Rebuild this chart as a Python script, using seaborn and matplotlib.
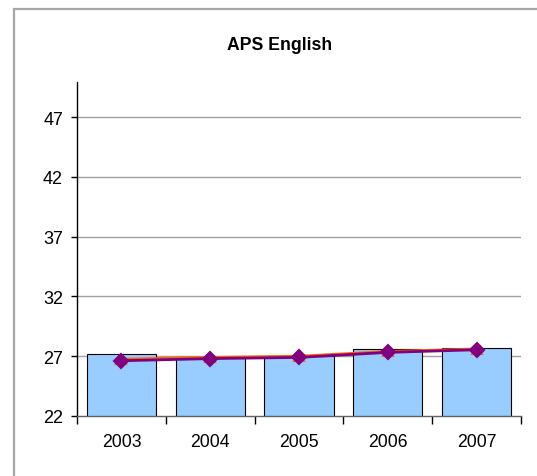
import matplotlib
matplotlib.use("Agg")
import matplotlib.pyplot as plt
import seaborn as sns
from matplotlib.patches import Rectangle
from matplotlib.ticker import FixedLocator

years = ["2003", "2004", "2005", "2006", "2007"]
bar_values = [27.15, 26.9, 27.0, 27.6, 27.65]
orange_values = [26.75, 26.9, 27.0, 27.4, 27.6]
purple_values = [26.62, 26.8, 26.9, 27.32, 27.54]
y_ticks = [22, 27, 32, 37, 42, 47]

sns.set_theme(style="white")
plt.rcParams['font.family'] = ['Liberation Sans', 'DejaVu Sans']
plt.rcParams['text.color'] = 'black'
plt.rcParams['xtick.color'] = 'black'
plt.rcParams['ytick.color'] = 'black'

W, H = 537, 477
fig = plt.figure(figsize=(W / 100, H / 100), dpi=100)
fig.patch.set_facecolor("white")

# outer frame
fig.add_artist(Rectangle((14 / W, -0.1), 1.5, (H - 9.5) / H + 0.1, transform=fig.transFigure,
                         fill=False, edgecolor="#A6A6A6", linewidth=1.6))

ax = fig.add_axes([77 / W, (H - 417) / H, (521 - 77) / W, (417 - 83) / H])
ax.set_facecolor("white")

sns.barplot(x=years, y=bar_values, color="#99CCFF", edgecolor="black", linewidth=0.8,
            width=0.78, saturation=1, ax=ax, zorder=2)
sns.pointplot(x=years, y=orange_values, color="#FF6600", markers="^", markersize=7,
              linewidth=2, ax=ax, zorder=3)
sns.pointplot(x=years, y=purple_values, color="#800080", markers="D", markersize=7,
              linewidth=2, ax=ax, zorder=4)

ax.set_ylim(22, 49.93)
ax.set_xlim(-0.5, 4.5)
ax.set_yticks(y_ticks)
ax.set_yticklabels([str(v) for v in y_ticks], fontsize=13)
ax.set_xticks(range(len(years)))
ax.set_xticklabels(years, fontsize=12.7)
ax.xaxis.set_minor_locator(FixedLocator([-0.5, 0.5, 1.5, 2.5, 3.5, 4.5]))
ax.tick_params(axis="x", which="major", length=0, pad=12, colors="black")
ax.tick_params(axis="x", which="minor", length=6, width=1, color="black", bottom=True)
ax.tick_params(axis="y", which="major", length=4, width=1, color="black", left=True, pad=6)
ax.set_xlabel("")
ax.set_ylabel("")

for v in y_ticks[1:]:
    ax.axhline(v, color="#A0A0A0", linewidth=1, zorder=1)

for s in ["top", "right"]:
    ax.spines[s].set_visible(False)
ax.spines["left"].set_color("black")
ax.spines["left"].set_linewidth(1)
ax.spines["bottom"].set_color("#606060")
ax.spines["bottom"].set_linewidth(1)
ax.grid(False)

fig.text(280 / W, 1 - 45 / H, "APS English", ha="center", va="center",
         fontsize=12.7, fontweight="bold", color="black")

fig.savefig("out.png", dpi=100)
